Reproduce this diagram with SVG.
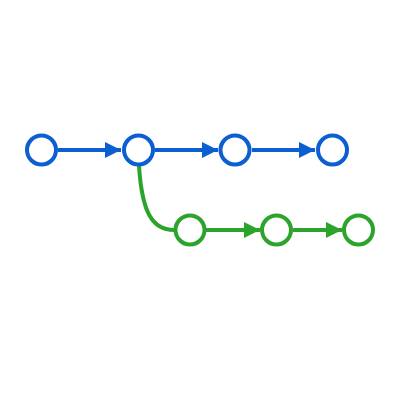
<svg xmlns="http://www.w3.org/2000/svg" width="400" height="400" viewBox="0 0 400 400">
<defs>
<style>
.nb{fill:#fff;stroke:#0b5fd0;stroke-width:4}
.ng{fill:#fff;stroke:#2ca42c;stroke-width:4}
.eb{fill:none;stroke:#0b5fd0;stroke-width:4}
.eg{fill:none;stroke:#2ca42c;stroke-width:4}
</style>
<marker id="ab" viewBox="0 0 10 10" refX="10" refY="5" markerWidth="4.2" markerHeight="4" orient="auto" markerUnits="strokeWidth"><path d="M0,0 L10,5 L0,10 z" fill="#0b5fd0"/></marker>
<marker id="ag" viewBox="0 0 10 10" refX="10" refY="5" markerWidth="4.2" markerHeight="4" orient="auto" markerUnits="strokeWidth"><path d="M0,0 L10,5 L0,10 z" fill="#2ca42c"/></marker>
</defs>
<rect width="400" height="400" fill="#fff"/>
<g id="connectors">
<line class="eb" x1="58" y1="150" x2="121" y2="150" marker-end="url(#ab)"/>
<line class="eb" x1="155" y1="150" x2="218" y2="150" marker-end="url(#ab)"/>
<line class="eb" x1="252" y1="150" x2="315" y2="150" marker-end="url(#ab)"/>
<path class="eg" d="M139,166 C142,212 152,230 174,230"/>
<line class="eg" x1="206" y1="230" x2="260" y2="230" marker-end="url(#ag)"/>
<line class="eg" x1="293" y1="230" x2="342" y2="230" marker-end="url(#ag)"/>
</g>
<g id="b1"><circle class="nb" cx="41.5" cy="150" r="14.5"/></g>
<g id="b2"><circle class="nb" cx="138.5" cy="150" r="14.5"/></g>
<g id="b3"><circle class="nb" cx="235" cy="150" r="14.5"/></g>
<g id="b4"><circle class="nb" cx="332.5" cy="150" r="14.5"/></g>
<g id="g1"><circle class="ng" cx="190" cy="230" r="14.5"/></g>
<g id="g2"><circle class="ng" cx="276.5" cy="230" r="14.5"/></g>
<g id="g3"><circle class="ng" cx="358.5" cy="230" r="14.5"/></g>
</svg>
